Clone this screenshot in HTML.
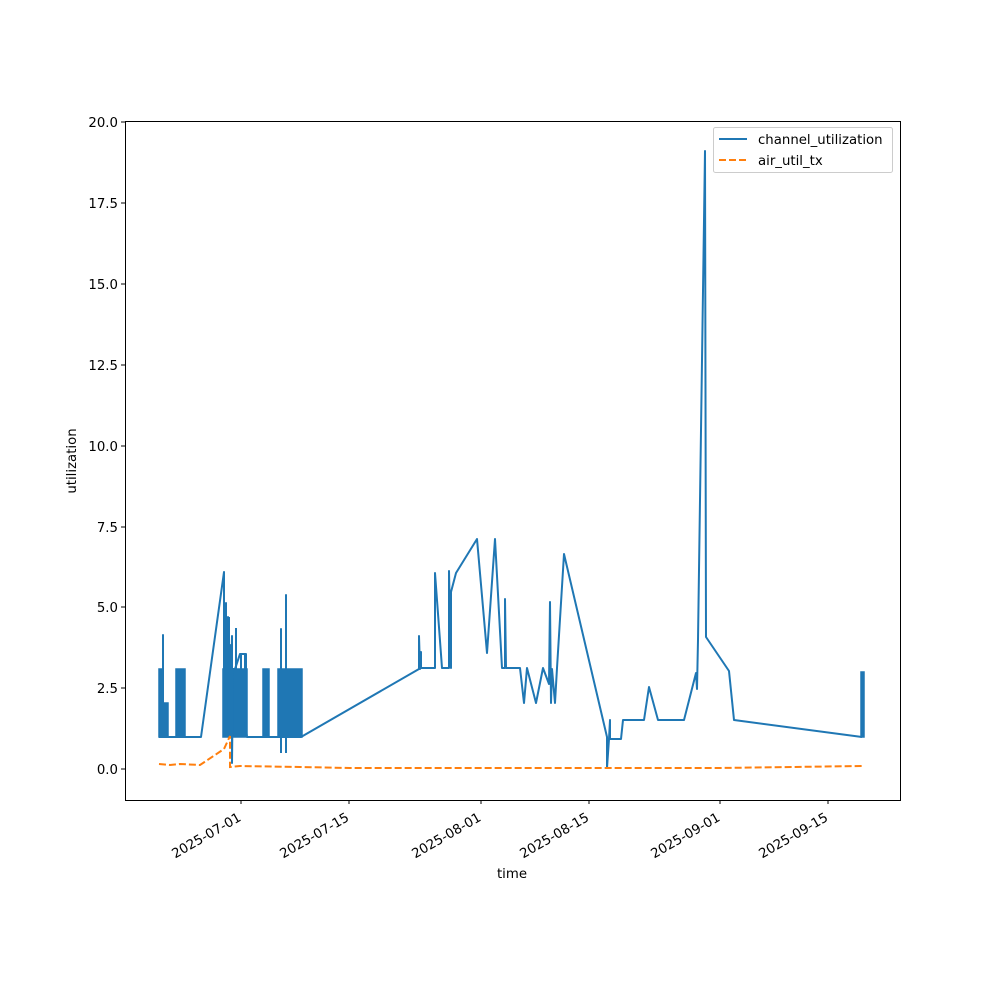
<!DOCTYPE html>
<html><head><style>body{margin:0;background:#fff}svg{display:block}text{font-family:"DejaVu Sans","Liberation Sans",sans-serif;font-size:13.3px;fill:#000}</style></head>
<body>
<svg width="1000" height="1000" viewBox="0 0 1000 1000">
<rect width="1000" height="1000" fill="#fff"/>
<g fill="#1f77b4" stroke="#1f77b4" stroke-width="1.5">
<rect x="159" y="669" width="4" height="68"/>
<rect x="163" y="703" width="5" height="34"/>
<rect x="176" y="669" width="9" height="68"/>
<rect x="223" y="669" width="7" height="68"/>
<rect x="233" y="669" width="14" height="68"/>
<rect x="263" y="669" width="6" height="68"/>
<rect x="278" y="669" width="24" height="68"/>
<rect x="861" y="672" width="3" height="65"/>
</g>
<g fill="none" stroke="#1f77b4" stroke-width="2" stroke-linejoin="round">
<polyline points="163,737 163,635 163,737"/>
<polyline points="159,737 201,737 224,572 224,700 226,603 226,720 228,617 228,700 230,645 230,737 232,636 232,763 233,669 235,669 240,654 245,654 245,722 247,737 301,737 419,669 419,636 420,669 421,652 421,668 435,668 435,573 442,668 449,668 449,571 451,668 451,592 456,573 477,539 487,653 495,539 502,668 505,668 505,599 506,668 520,668 524,703 527,668 536,703 543,668 549,684 550,602 551,703 552,669 555,703 557,668 564,554 607,737 607,768 609,739 610,720 610,739 621,739 623,720 644,720 649,687 658,720 684,720 696,673 697,689 698,640 705,151 706,637 729,671 734,720 862,737"/>
<polyline points="281,737 281,629 281,753"/>
<polyline points="286,737 286,595 286,753"/>
<polyline points="229,700 229,617"/>
<polyline points="236,669 236,628"/>
<polyline points="241,669 241,654 246,654 246,669"/>
</g>
<polyline points="159,764 170,765 180,764 200,765 224,749 230,736 230,767 240,766 300,767 350,768 500,768 607,768 720,768 862,766" fill="none" stroke="#ff7f0e" stroke-width="2" stroke-dasharray="7,3"/>
<rect x="125.5" y="121.5" width="775" height="679" fill="none" stroke="#000" stroke-width="1"/>
<g stroke="#000">
<line x1="121" x2="125" y1="769" y2="769"/><line x1="121" x2="125" y1="688" y2="688"/><line x1="121" x2="125" y1="607" y2="607"/><line x1="121" x2="125" y1="527" y2="527"/><line x1="121" x2="125" y1="446" y2="446"/><line x1="121" x2="125" y1="365" y2="365"/><line x1="121" x2="125" y1="284" y2="284"/><line x1="121" x2="125" y1="203" y2="203"/><line x1="121" x2="125" y1="122" y2="122"/>
<line x1="241" x2="241" y1="800" y2="804"/><line x1="349" x2="349" y1="800" y2="804"/><line x1="481" x2="481" y1="800" y2="804"/><line x1="589" x2="589" y1="800" y2="804"/><line x1="720" x2="720" y1="800" y2="804"/><line x1="828" x2="828" y1="800" y2="804"/>
</g>
<g text-anchor="end">
<text x="118" y="774">0.0</text><text x="118" y="693">2.5</text><text x="118" y="612">5.0</text><text x="118" y="532">7.5</text><text x="118" y="451">10.0</text><text x="118" y="370">12.5</text><text x="118" y="289">15.0</text><text x="118" y="208">17.5</text><text x="118" y="127">20.0</text>
<text transform="translate(242,820) rotate(-30)">2025-07-01</text>
<text transform="translate(350,820) rotate(-30)">2025-07-15</text>
<text transform="translate(482,820) rotate(-30)">2025-08-01</text>
<text transform="translate(590,820) rotate(-30)">2025-08-15</text>
<text transform="translate(721,820) rotate(-30)">2025-09-01</text>
<text transform="translate(829,820) rotate(-30)">2025-09-15</text>
</g>
<text x="512" y="878" text-anchor="middle">time</text>
<text transform="translate(76,461) rotate(-90)" text-anchor="middle">utilization</text>
<rect x="713.5" y="127.5" width="179" height="45" rx="2" fill="#fff" stroke="#ccc"/>
<line x1="719" x2="747" y1="139" y2="139" stroke="#1f77b4" stroke-width="2"/>
<line x1="719" x2="747" y1="160" y2="160" stroke="#ff7f0e" stroke-width="2" stroke-dasharray="7,3"/>
<text x="758" y="144">channel_utilization</text>
<text x="758" y="165">air_util_tx</text>
</svg>
</body></html>
